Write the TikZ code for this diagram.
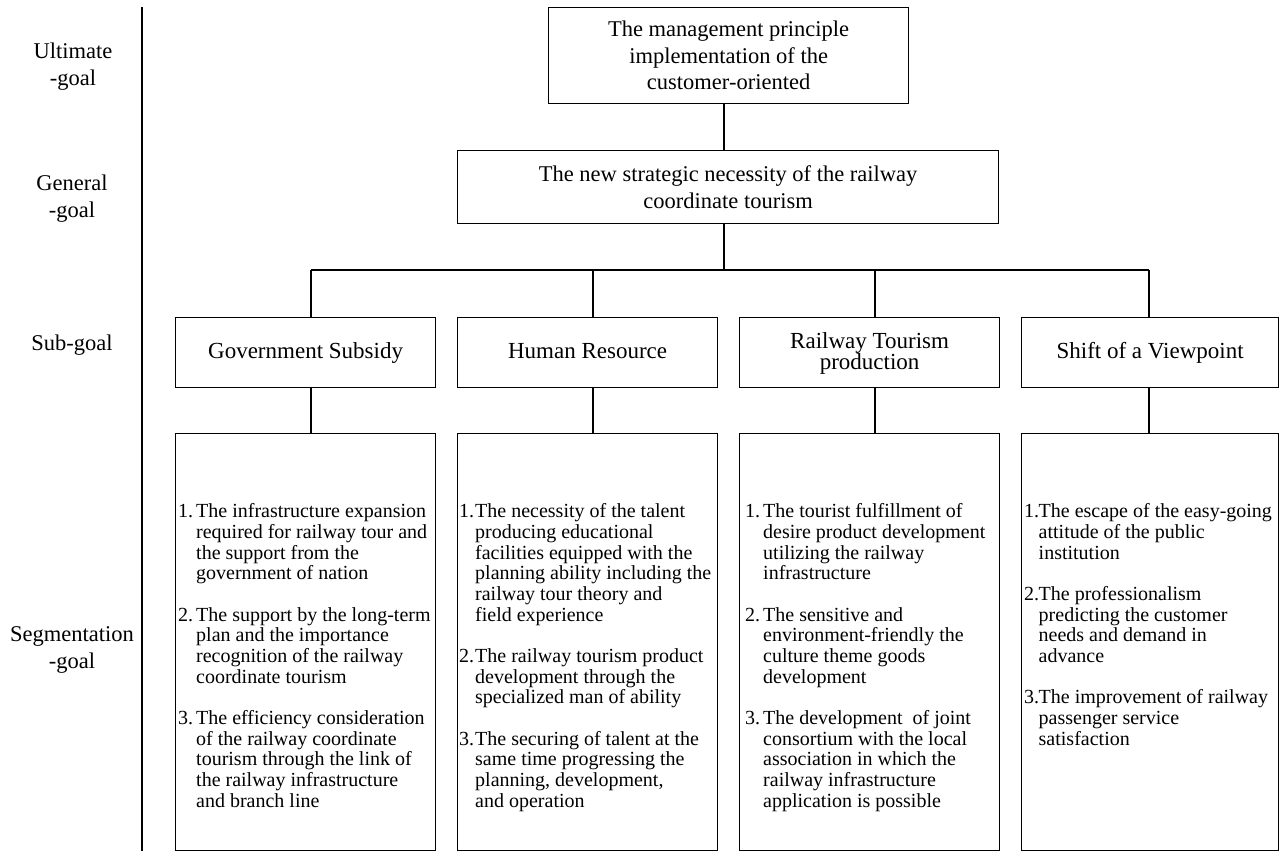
\documentclass[tikz,border=0pt]{standalone}
\usepackage{fontspec}
\setmainfont{Liberation Serif}
\begin{document}
\begin{tikzpicture}[x=1pt,y=-1pt,
  box/.style={draw, line width=1.2pt, rectangle, inner sep=0pt, anchor=north west},
  conn/.style={line width=1.2pt},
  lbl/.style={align=center, font=\fontsize{22.5}{27}\selectfont, inner sep=0pt},
  ttl/.style={align=center, font=\fontsize{22.5}{26.5}\selectfont},
  subt/.style={align=center, font=\fontsize{23}{21}\selectfont},
  segtxt/.style={align=left, anchor=north west, inner sep=0pt, font=\fontsize{20}{20.7}\selectfont}]
\useasboundingbox (0,0) rectangle (1281,851);

% left axis
\draw[line width=1.8pt] (142,7) -- (142,851);
\node[lbl] (l1) at (73,66.5) {Ultimate\\-goal};
\node[lbl] (l2) at (72,199) {General\\-goal};
\node[lbl] (l3) at (72,345) {Sub-goal};
\node[lbl] (l4) at (72,650) {Segmentation\\-goal};

% top levels
\node[box, ttl, minimum width=360pt, minimum height=96pt] (top) at (548,7)
  {The management principle\\implementation of the\\customer-oriented};
\node[box, ttl, minimum width=541pt, minimum height=73pt] (gen) at (457,150)
  {The new strategic necessity of the railway\\coordinate tourism};

% sub-goal boxes
\node[box, subt, minimum width=260pt, minimum height=70pt] (sub1) at (175,317) {Government Subsidy};
\node[box, subt, minimum width=260pt, minimum height=70pt] (sub2) at (457,317) {Human Resource\vphantom{bdy}};
\node[box, subt, minimum width=260pt, minimum height=70pt, text depth=4pt] (sub3) at (739,317) {Railway Tourism\\production};
\node[box, subt, minimum width=257pt, minimum height=70pt] (sub4) at (1021,317) {Shift of a Viewpoint};

% segmentation boxes
\node[box, minimum width=260pt, minimum height=417pt] (seg1) at (175,433) {};
\node[box, minimum width=260pt, minimum height=417pt] (seg2) at (457,433) {};
\node[box, minimum width=260pt, minimum height=417pt] (seg3) at (739,433) {};
\node[box, minimum width=257pt, minimum height=417pt] (seg4) at (1021,433) {};

% connectors
\coordinate (hub) at (724,270);
\coordinate (d1) at (311,270);
\coordinate (d2) at (593,270);
\coordinate (d3) at (875,270);
\coordinate (d4) at (1149,270);
\draw[conn] (hub |- top.south) -- (hub |- gen.north);
\draw[conn] (hub |- gen.south) -- (hub);
\draw[conn] (d1) -- (d4);
\foreach \i in {1,2,3,4}{
  \draw[conn] (d\i) -- (d\i |- sub\i.north);
  \draw[conn] (d\i |- sub\i.south) -- (d\i |- seg\i.north);
}

% segmentation texts
\node[segtxt] (t1) at (178,503.5) {%
\makebox[18pt][l]{1.}The infrastructure expansion\\
\hspace*{18pt}required for railway tour and\\
\hspace*{18pt}the support from the\\
\hspace*{18pt}government of nation\\[20.5pt]
\makebox[18pt][l]{2.}The support by the long-term\\
\hspace*{18pt}plan and the importance\\
\hspace*{18pt}recognition of the railway\\
\hspace*{18pt}coordinate tourism\\[20.5pt]
\makebox[18pt][l]{3.}The efficiency consideration\\
\hspace*{18pt}of the railway coordinate\\
\hspace*{18pt}tourism through the link of\\
\hspace*{18pt}the railway infrastructure\\
\hspace*{18pt}and branch line};

\node[segtxt] (t2) at (459,503.5) {%
\makebox[16pt][l]{1.}The necessity of the talent\\
\hspace*{16pt}producing educational\\
\hspace*{16pt}facilities equipped with the\\
\hspace*{16pt}planning ability including the\\
\hspace*{16pt}railway tour theory and\\
\hspace*{16pt}field experience\\[20.5pt]
\makebox[16pt][l]{2.}The railway tourism product\\
\hspace*{16pt}development through the\\
\hspace*{16pt}specialized man of ability\\[20.5pt]
\makebox[16pt][l]{3.}The securing of talent at the\\
\hspace*{16pt}same time progressing the\\
\hspace*{16pt}planning, development,\\
\hspace*{16pt}and operation};

\node[segtxt] (t3) at (745,503.5) {%
\makebox[18pt][l]{1.}The tourist fulfillment of\\
\hspace*{18pt}desire product development\\
\hspace*{18pt}utilizing the railway\\
\hspace*{18pt}infrastructure\\[20.5pt]
\makebox[18pt][l]{2.}The sensitive and\\
\hspace*{18pt}environment-friendly the\\
\hspace*{18pt}culture theme goods\\
\hspace*{18pt}development\\[20.5pt]
\makebox[18pt][l]{3.}The development\ \ of joint\\
\hspace*{18pt}consortium with the local\\
\hspace*{18pt}association in which the\\
\hspace*{18pt}railway infrastructure\\
\hspace*{18pt}application is possible};

\node[segtxt] (t4) at (1024,503.5) {%
\makebox[14.5pt][l]{1.}The escape of the easy-going\\
\hspace*{14.5pt}attitude of the public\\
\hspace*{14.5pt}institution\\[20.5pt]
\makebox[14.5pt][l]{2.}The professionalism\\
\hspace*{14.5pt}predicting the customer\\
\hspace*{14.5pt}needs and demand in\\
\hspace*{14.5pt}advance\\[20.5pt]
\makebox[14.5pt][l]{3.}The improvement of railway\\
\hspace*{14.5pt}passenger service\\
\hspace*{14.5pt}satisfaction};
\end{tikzpicture}
\end{document}
